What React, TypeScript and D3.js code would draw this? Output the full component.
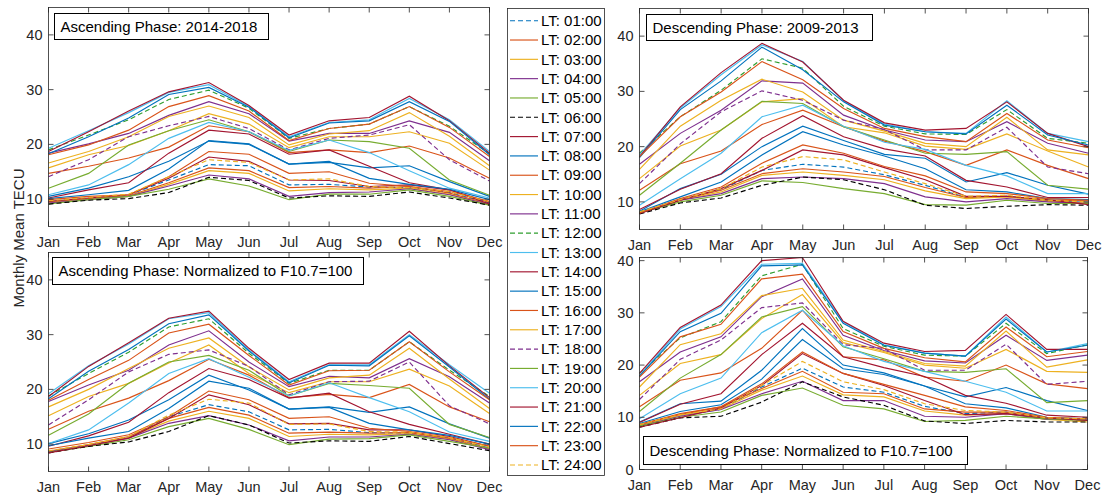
import React from "react";
import * as d3 from "d3";

// Month labels along every x axis
const MONTHS = ["Jan", "Feb", "Mar", "Apr", "May", "Jun", "Jul", "Aug", "Sep", "Oct", "Nov", "Dec"];

// Local-time series labels (legend order)
const LT_LABELS = [
  "LT: 01:00", "LT: 02:00", "LT: 03:00", "LT: 04:00", "LT: 05:00", "LT: 06:00",
  "LT: 07:00", "LT: 08:00", "LT: 09:00", "LT: 10:00", "LT: 11:00", "LT: 12:00",
  "LT: 13:00", "LT: 14:00", "LT: 15:00", "LT: 16:00", "LT: 17:00", "LT: 18:00",
  "LT: 19:00", "LT: 20:00", "LT: 21:00", "LT: 22:00", "LT: 23:00", "LT: 24:00",
];

// Monthly mean TECU, ascending phase 2014-2018 (rows: LT 01..24, columns: Jan..Dec)
const ascendingRaw: number[][] = [
  [9.6, 10.2, 10.8, 13.5, 16.3, 16.1, 12.6, 12.7, 12.2, 12.1, 11.2, 9.3],
  [9.4, 10.1, 10.6, 13.0, 15.7, 15.2, 12.1, 12.3, 12.0, 12.3, 11.1, 9.1],
  [9.4, 10.0, 10.5, 12.7, 15.2, 14.7, 11.5, 11.9, 11.7, 12.0, 10.9, 9.0],
  [9.3, 9.9, 10.5, 12.4, 14.4, 13.7, 10.5, 11.2, 11.3, 11.9, 10.8, 9.0],
  [9.1, 9.9, 10.5, 11.8, 13.7, 12.4, 9.9, 10.9, 10.9, 11.7, 10.5, 8.9],
  [9.1, 9.8, 10.1, 11.2, 14.0, 13.4, 10.2, 10.6, 10.5, 11.3, 10.2, 8.9],
  [9.6, 10.2, 10.8, 13.8, 17.7, 16.9, 13.5, 13.4, 12.3, 12.6, 11.7, 9.4],
  [10.5, 12.0, 14.1, 16.9, 20.6, 20.0, 16.4, 16.7, 15.7, 16.1, 13.2, 10.5],
  [14.7, 16.0, 17.5, 19.5, 23.4, 22.3, 18.5, 19.0, 18.5, 19.7, 17.5, 13.8],
  [15.7, 18.1, 19.8, 22.5, 25.6, 23.7, 19.4, 21.4, 21.4, 22.3, 20.2, 15.3],
  [18.4, 20.1, 22.0, 25.3, 27.8, 25.6, 20.6, 22.0, 22.0, 24.3, 22.2, 17.0],
  [19.0, 21.7, 24.5, 28.2, 29.9, 26.6, 21.1, 22.9, 23.7, 26.9, 23.3, 18.3],
  [19.3, 22.5, 25.8, 29.5, 30.9, 26.9, 21.4, 24.0, 24.5, 28.4, 24.5, 18.7],
  [18.7, 22.3, 26.1, 29.6, 31.3, 27.1, 21.7, 24.3, 24.9, 28.8, 24.3, 18.4],
  [18.3, 21.4, 24.8, 29.1, 30.4, 26.8, 21.2, 23.9, 24.3, 27.8, 24.2, 18.1],
  [18.1, 19.9, 22.6, 26.9, 28.9, 26.1, 20.7, 22.9, 23.7, 26.9, 23.1, 17.8],
  [16.6, 18.7, 21.4, 25.1, 27.0, 24.9, 19.9, 21.9, 22.5, 25.8, 21.5, 16.1],
  [14.1, 17.2, 21.4, 23.4, 25.1, 22.9, 19.0, 21.1, 21.7, 23.6, 17.2, 13.3],
  [12.0, 14.7, 19.9, 22.5, 24.5, 22.3, 18.7, 20.8, 20.5, 19.3, 13.5, 10.7],
  [10.8, 12.6, 16.3, 21.1, 24.0, 22.3, 18.9, 20.8, 18.5, 15.2, 12.0, 10.2],
  [10.2, 11.7, 13.0, 18.4, 22.6, 21.9, 18.2, 19.0, 16.0, 13.0, 11.7, 9.1],
  [10.1, 10.8, 11.6, 15.5, 20.7, 20.1, 16.4, 16.9, 13.8, 12.7, 11.8, 9.9],
  [9.9, 10.5, 10.8, 14.1, 18.7, 18.2, 14.7, 15.0, 12.9, 12.3, 11.4, 9.6],
  [9.7, 10.3, 10.9, 14.1, 17.2, 16.7, 13.5, 13.7, 12.3, 12.1, 11.4, 9.5],
];

// Ascending phase normalized to F10.7 = 100
const ascendingNorm: number[][] = [
  [8.7, 9.8, 11.3, 15.0, 17.2, 15.9, 12.6, 12.7, 12.1, 12.0, 11.1, 9.3],
  [8.7, 9.9, 11.4, 14.7, 16.7, 15.3, 12.0, 12.2, 12.0, 12.1, 11.0, 9.2],
  [8.7, 9.9, 11.2, 14.2, 16.0, 14.7, 11.4, 11.8, 11.7, 11.9, 10.9, 9.1],
  [8.6, 9.8, 11.1, 13.8, 15.2, 13.5, 10.6, 11.3, 11.3, 11.8, 10.8, 9.0],
  [8.5, 9.6, 10.8, 13.2, 14.7, 12.7, 9.9, 10.9, 11.0, 11.7, 10.5, 9.3],
  [8.4, 9.6, 10.4, 12.3, 15.2, 13.5, 10.2, 10.6, 10.5, 11.4, 10.1, 8.8],
  [8.4, 9.7, 11.1, 14.7, 19.0, 17.2, 13.7, 13.8, 12.6, 12.6, 11.4, 9.6],
  [10.1, 11.9, 14.4, 18.1, 22.6, 19.9, 16.4, 16.8, 15.8, 16.8, 13.7, 11.1],
  [12.7, 16.0, 18.4, 21.6, 25.5, 22.6, 18.5, 19.1, 18.5, 20.9, 16.8, 14.1],
  [15.2, 18.7, 21.1, 24.8, 28.1, 22.9, 19.4, 21.4, 21.4, 23.7, 20.6, 15.6],
  [17.8, 20.8, 23.5, 28.1, 30.7, 25.0, 20.5, 22.4, 22.1, 25.6, 22.3, 17.5],
  [18.8, 22.9, 26.8, 31.4, 32.9, 26.6, 21.1, 23.5, 23.5, 28.7, 23.5, 18.7],
  [19.2, 24.3, 28.3, 32.9, 34.0, 27.2, 21.4, 24.5, 24.5, 30.0, 24.5, 19.3],
  [18.7, 24.2, 28.5, 33.0, 34.3, 27.5, 21.8, 24.8, 24.8, 30.6, 24.3, 18.5],
  [18.3, 23.3, 27.3, 32.0, 33.6, 27.0, 21.2, 24.4, 24.3, 29.8, 24.1, 18.2],
  [18.0, 21.8, 25.3, 30.3, 31.9, 26.2, 20.8, 23.4, 23.5, 28.7, 23.2, 18.1],
  [16.8, 20.0, 23.8, 27.5, 29.4, 24.1, 19.9, 22.1, 22.6, 27.5, 21.9, 16.5],
  [13.5, 18.1, 23.2, 26.4, 27.2, 24.2, 19.0, 21.4, 21.5, 25.0, 17.0, 13.7],
  [11.6, 15.5, 21.1, 25.0, 26.2, 23.5, 18.8, 21.1, 20.7, 20.2, 13.6, 11.2],
  [10.1, 12.6, 17.5, 22.9, 25.6, 22.2, 18.8, 21.2, 18.5, 15.9, 12.2, 10.5],
  [9.6, 11.5, 14.0, 19.4, 23.8, 21.8, 18.4, 19.3, 15.9, 13.6, 11.8, 10.0],
  [9.7, 11.1, 12.3, 16.5, 21.5, 20.2, 16.4, 16.7, 13.8, 12.6, 11.6, 10.0],
  [9.1, 10.3, 11.7, 15.0, 19.7, 18.1, 14.7, 15.0, 12.9, 12.3, 11.2, 9.6],
  [8.8, 9.9, 11.4, 15.3, 18.2, 17.5, 13.6, 13.7, 12.3, 12.2, 11.2, 9.5],
];

// Descending phase 2009-2013
const descendingRaw: number[][] = [
  [8.1, 10.5, 12.2, 15.7, 16.8, 16.3, 14.9, 13.0, 10.8, 11.0, 10.2, 9.9],
  [8.0, 10.4, 12.1, 15.1, 16.0, 15.4, 14.6, 12.6, 10.8, 11.0, 10.3, 10.2],
  [8.0, 10.3, 11.8, 14.8, 15.4, 14.8, 14.0, 12.0, 10.6, 10.9, 10.1, 9.8],
  [7.9, 10.3, 11.5, 14.2, 14.5, 14.2, 13.3, 10.9, 10.0, 10.6, 10.0, 9.7],
  [8.0, 10.0, 11.2, 13.8, 13.5, 12.4, 11.5, 9.5, 9.4, 10.3, 9.7, 9.7],
  [7.8, 9.8, 10.7, 13.0, 14.5, 14.0, 12.2, 9.4, 8.8, 9.2, 9.5, 9.4],
  [7.9, 10.3, 12.4, 15.7, 19.4, 18.5, 16.2, 14.0, 11.0, 11.0, 10.4, 9.5],
  [8.3, 12.4, 15.0, 20.0, 23.7, 21.1, 18.6, 17.9, 13.6, 15.3, 13.0, 11.4],
  [12.1, 16.9, 19.2, 24.0, 26.6, 23.6, 21.0, 19.1, 16.6, 19.4, 16.6, 14.2],
  [14.2, 20.1, 23.0, 28.1, 28.7, 23.6, 22.5, 20.1, 19.5, 22.3, 19.2, 16.3],
  [16.8, 22.4, 26.6, 31.9, 31.5, 25.7, 23.0, 21.2, 20.9, 24.5, 20.6, 18.8],
  [18.8, 25.4, 30.2, 35.9, 34.2, 27.3, 23.7, 22.3, 22.2, 26.7, 21.5, 20.6],
  [18.5, 27.0, 33.0, 38.4, 35.4, 28.3, 24.1, 22.7, 22.4, 28.3, 22.4, 20.9],
  [18.2, 27.2, 33.4, 38.7, 35.3, 28.4, 24.3, 23.0, 23.3, 28.1, 22.4, 20.0],
  [18.0, 26.7, 31.9, 38.0, 33.9, 28.1, 23.9, 22.7, 22.3, 27.5, 22.1, 20.3],
  [18.2, 25.4, 29.9, 35.4, 32.1, 26.9, 23.3, 21.8, 20.9, 26.0, 21.2, 19.8],
  [15.9, 23.7, 28.4, 32.2, 29.9, 24.8, 22.8, 20.6, 20.0, 25.3, 19.4, 18.5],
  [13.3, 20.5, 26.3, 30.1, 28.4, 24.8, 23.1, 19.4, 19.4, 23.5, 16.3, 15.1],
  [11.2, 17.0, 23.0, 28.2, 27.8, 23.6, 21.2, 18.8, 18.6, 19.1, 13.0, 12.3],
  [9.4, 14.2, 18.8, 25.4, 27.5, 23.7, 20.8, 19.5, 16.6, 14.7, 11.5, 11.5],
  [8.6, 12.3, 15.1, 21.5, 25.6, 21.8, 19.6, 18.3, 13.9, 12.7, 10.8, 10.8],
  [8.2, 10.9, 13.6, 18.5, 22.7, 20.3, 18.3, 16.0, 12.2, 11.8, 10.6, 10.4],
  [8.0, 10.6, 12.7, 17.0, 20.3, 18.8, 16.4, 14.7, 11.8, 11.5, 10.6, 10.3],
  [8.2, 10.4, 12.4, 16.3, 18.2, 17.6, 15.4, 13.3, 11.0, 11.2, 10.3, 10.0],
];

// Descending phase normalized to F10.7 = 100
const descendingNorm: number[][] = [
  [8.4, 10.4, 11.5, 15.8, 19.4, 15.8, 14.8, 12.1, 10.7, 11.0, 9.7, 9.4],
  [8.6, 10.5, 12.0, 15.5, 18.8, 14.8, 14.5, 11.6, 11.0, 11.0, 9.9, 9.4],
  [8.4, 10.4, 11.6, 15.2, 17.9, 14.3, 13.9, 11.2, 10.4, 10.7, 9.6, 9.1],
  [8.3, 10.2, 11.5, 14.5, 16.9, 13.2, 13.2, 10.2, 10.0, 10.7, 9.6, 9.7],
  [8.3, 10.0, 11.0, 14.2, 15.6, 12.3, 11.6, 9.2, 9.4, 10.2, 9.7, 9.4],
  [8.1, 9.9, 10.2, 12.9, 16.8, 13.9, 12.3, 9.3, 8.8, 9.4, 9.1, 9.1],
  [8.1, 9.9, 11.8, 16.1, 22.2, 18.4, 16.1, 13.2, 10.5, 10.7, 9.9, 9.4],
  [9.1, 12.6, 13.1, 19.0, 27.0, 20.0, 18.5, 16.0, 13.9, 15.7, 13.2, 11.3],
  [12.0, 17.1, 18.5, 23.2, 30.5, 21.6, 21.0, 17.7, 16.9, 20.0, 16.4, 15.5],
  [14.2, 20.3, 22.0, 28.9, 33.5, 24.3, 22.4, 20.0, 19.4, 23.0, 18.8, 18.6],
  [16.8, 22.5, 25.4, 33.1, 36.5, 25.7, 22.8, 20.8, 20.4, 25.7, 20.9, 21.9],
  [18.4, 25.2, 28.3, 37.1, 39.3, 27.0, 23.6, 21.9, 21.7, 28.0, 22.2, 23.9],
  [18.0, 26.9, 31.2, 39.3, 39.5, 28.3, 23.9, 22.3, 21.7, 29.2, 22.5, 24.1],
  [18.4, 27.2, 31.5, 40.0, 40.6, 28.4, 24.2, 22.6, 22.8, 29.7, 23.0, 23.0],
  [17.9, 26.4, 29.9, 39.0, 39.2, 28.0, 23.8, 22.3, 21.7, 28.8, 22.5, 23.8],
  [17.7, 25.4, 27.8, 36.5, 37.4, 26.4, 23.2, 21.4, 20.6, 27.3, 21.6, 22.6],
  [15.8, 23.9, 26.0, 33.3, 34.7, 24.8, 22.6, 20.3, 19.8, 26.5, 19.6, 21.0],
  [13.4, 21.1, 24.8, 31.0, 31.9, 23.9, 23.2, 19.0, 19.0, 24.0, 16.3, 16.9],
  [11.1, 17.5, 22.0, 29.2, 31.2, 23.5, 21.2, 18.8, 18.6, 19.3, 12.8, 13.2],
  [9.7, 14.5, 17.5, 26.2, 30.5, 23.7, 20.7, 18.8, 16.9, 14.8, 11.2, 11.2],
  [9.0, 12.5, 14.5, 22.0, 28.0, 21.6, 19.5, 17.8, 14.2, 12.7, 10.4, 10.0],
  [8.8, 11.1, 12.4, 17.3, 24.9, 19.3, 18.2, 16.0, 12.6, 11.8, 10.0, 9.7],
  [8.6, 10.7, 12.0, 16.4, 22.5, 18.4, 16.3, 14.2, 12.0, 11.3, 10.0, 9.7],
  [8.6, 10.5, 11.6, 16.1, 20.7, 16.8, 15.3, 12.6, 11.3, 11.0, 9.9, 9.7],
];

// Line style per local time
const COLORS = [
  "#0072BD", "#D95319", "#EDB120", "#7E2F8E", "#77AC30", "#000000",
  "#A2142F", "#0072BD", "#D95319", "#EDB120", "#7E2F8E", "#2f9e2f",
  "#4DBEEE", "#A2142F", "#0072BD", "#D95319", "#EDB120", "#7E2F8E",
  "#77AC30", "#4DBEEE", "#A2142F", "#0072BD", "#D95319", "#EDB120",
];
const DASHED = [
  true, false, false, false, false, true,
  false, false, false, false, false, true,
  false, false, false, false, false, true,
  false, false, false, false, false, true,
];

const FONT = "'Liberation Sans', Arial, Helvetica, sans-serif";
const AXIS_COLOR = "#262626";

type PanelSpec = {
  data: number[][];
  title: string;
  left: number;
  right: number;
  top: number;
  bottom: number;
  yDomain: [number, number];
  yTicks: number[];
  titleBox: { x: number; y: number; w: number; h: number };
  labelBaseline: number;
};

const PANELS: PanelSpec[] = [
  {
    data: ascendingRaw,
    title: "Ascending Phase: 2014-2018",
    left: 48.5, right: 489.5, top: 7.5, bottom: 226.5,
    yDomain: [5, 45], yTicks: [10, 20, 30, 40],
    titleBox: { x: 54.5, y: 13.5, w: 214, h: 26 },
    labelBaseline: 246.5,
  },
  {
    data: ascendingNorm,
    title: "Ascending Phase: Normalized to F10.7=100",
    left: 48.5, right: 489.5, top: 252.5, bottom: 471.5,
    yDomain: [5, 45], yTicks: [10, 20, 30, 40],
    titleBox: { x: 52.5, y: 257.5, w: 311, h: 27 },
    labelBaseline: 491.5,
  },
  {
    data: descendingRaw,
    title: "Descending Phase: 2009-2013",
    left: 639.5, right: 1088.5, top: 8.5, bottom: 229.5,
    yDomain: [5, 45], yTicks: [10, 20, 30, 40],
    titleBox: { x: 646.5, y: 14.5, w: 226, h: 26 },
    labelBaseline: 249.5,
  },
  {
    data: descendingNorm,
    title: "Descending Phase: Normalized to F10.7=100",
    left: 639.5, right: 1087.5, top: 257.5, bottom: 469.5,
    yDomain: [0, 40.6], yTicks: [0, 10, 20, 30, 40],
    titleBox: { x: 643.5, y: 436.5, w: 324, h: 28 },
    labelBaseline: 489.5,
  },
];

function Panel({ spec }: { spec: PanelSpec }) {
  const x = d3.scaleLinear().domain([0, MONTHS.length - 1]).range([spec.left, spec.right]);
  const y = d3.scaleLinear().domain(spec.yDomain).range([spec.bottom, spec.top]);
  const line = d3
    .line<number>()
    .x((_, i) => x(i))
    .y((v) => y(v));
  const tickLen = 5;

  return (
    <g>
      <rect x={spec.left} y={spec.top} width={spec.right - spec.left} height={spec.bottom - spec.top} fill="#fff" />
      {spec.data.map((row, i) => (
        <path
          key={i}
          d={line(row) || ""}
          fill="none"
          stroke={COLORS[i]}
          strokeWidth={1.15}
          strokeDasharray={DASHED[i] ? "5,3" : undefined}
        />
      ))}
      {/* box frame */}
      <rect
        x={spec.left}
        y={spec.top}
        width={spec.right - spec.left}
        height={spec.bottom - spec.top}
        fill="none"
        stroke={AXIS_COLOR}
        strokeWidth={0.8}
      />
      {/* month ticks (inside, top and bottom) and labels */}
      {MONTHS.map((m, i) => {
        const px = x(i);
        return (
          <g key={m}>
            <line x1={px} x2={px} y1={spec.bottom} y2={spec.bottom - tickLen} stroke={AXIS_COLOR} strokeWidth={0.8} />
            <line x1={px} x2={px} y1={spec.top} y2={spec.top + tickLen} stroke={AXIS_COLOR} strokeWidth={0.8} />
            <text x={px} y={spec.labelBaseline} textAnchor="middle" fontSize={14.5} fontFamily={FONT} fill={AXIS_COLOR}>
              {m}
            </text>
          </g>
        );
      })}
      {/* value ticks (inside, left and right) and labels */}
      {spec.yTicks.map((t) => {
        const py = y(t);
        return (
          <g key={t}>
            <line x1={spec.left} x2={spec.left + tickLen} y1={py} y2={py} stroke={AXIS_COLOR} strokeWidth={0.8} />
            <line x1={spec.right} x2={spec.right - tickLen} y1={py} y2={py} stroke={AXIS_COLOR} strokeWidth={0.8} />
            <text
              x={spec.left - 6}
              y={py}
              dy="0.35em"
              textAnchor="end"
              fontSize={14.5}
              fontFamily={FONT}
              fill={AXIS_COLOR}
            >
              {t}
            </text>
          </g>
        );
      })}
      {/* title box */}
      <rect
        x={spec.titleBox.x}
        y={spec.titleBox.y}
        width={spec.titleBox.w}
        height={spec.titleBox.h}
        fill="#fff"
        stroke="#000"
        strokeWidth={1}
      />
      <text
        x={spec.titleBox.x + 6}
        y={spec.titleBox.y + spec.titleBox.h / 2}
        dy="0.35em"
        fontSize={15}
        fontFamily={FONT}
        fill="#000"
      >
        {spec.title}
      </text>
    </g>
  );
}

function Legend() {
  const left = 507.5;
  const top = 8.5;
  const bottom = 475.5;
  const width = 97;
  const rowY = d3.scaleLinear().domain([0, LT_LABELS.length - 1]).range([20.7, 465]);
  return (
    <g>
      <rect x={left} y={top} width={width} height={bottom - top} fill="#fff" stroke={AXIS_COLOR} strokeWidth={0.8} />
      {LT_LABELS.map((label, i) => {
        const cy = rowY(i);
        return (
          <g key={label}>
            <line
              x1={510}
              x2={538}
              y1={cy}
              y2={cy}
              stroke={COLORS[i]}
              strokeWidth={1.15}
              strokeDasharray={DASHED[i] ? "5,3" : undefined}
            />
            <text x={541} y={cy} dy="0.35em" fontSize={15} fontFamily={FONT} fill="#000">
              {label}
            </text>
          </g>
        );
      })}
    </g>
  );
}

export default function App() {
  return (
    <svg
      width={1116}
      height={497}
      style={{ position: "absolute", left: 0, top: 0, background: "#fff" }}
      xmlns="http://www.w3.org/2000/svg"
    >
      <rect x={0} y={0} width={1116} height={497} fill="#fff" />
      {PANELS.map((p, i) => (
        <Panel key={i} spec={p} />
      ))}
      <Legend />
      <text
        transform="translate(19,238) rotate(-90)"
        textAnchor="middle"
        dy="0.35em"
        fontSize={15}
        fontFamily={FONT}
        fill={AXIS_COLOR}
      >
        Monthly Mean TECU
      </text>
    </svg>
  );
}
